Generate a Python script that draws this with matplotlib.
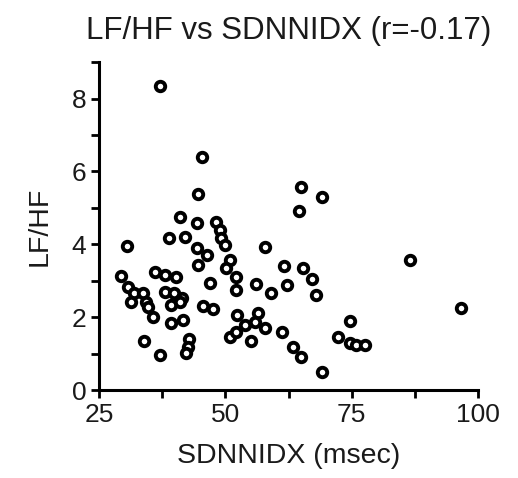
import matplotlib
matplotlib.use('Agg')
import matplotlib.pyplot as plt
from matplotlib.ticker import MultipleLocator

plt.rcParams['font.family'] = ['Liberation Sans', 'DejaVu Sans']

# SDNNIDX (msec)
sdnnidx = [37.1, 45.4, 44.6, 65.0, 69.2, 64.5, 41.0, 44.3, 48.1, 48.9,
           49.2, 49.9, 38.9, 42.0, 30.5, 44.3, 57.8, 46.4, 44.6, 50.9,
           50.2, 52.2, 52.2, 61.7, 65.4, 67.2, 67.9, 62.1, 56.0, 59.1,
           46.9, 29.4, 30.7, 31.9, 31.4, 33.7, 34.4, 34.7, 35.7, 36.0,
           38.0, 40.3, 38.1, 39.9, 39.3, 41.5, 41.0, 39.2, 41.6, 34.0,
           37.0, 42.9, 42.6, 42.2, 45.6, 47.6, 52.4, 56.5, 50.9, 52.2,
           53.8, 55.0, 55.9, 57.8, 61.3, 63.4, 65.0, 69.2, 72.2, 74.6,
           74.6, 75.9, 77.6, 86.5, 96.7]
# LF/HF ratio
lfhf = [8.35, 6.39, 5.38, 5.58, 5.31, 4.92, 4.74, 4.59, 4.62, 4.39,
        4.16, 3.98, 4.16, 4.21, 3.96, 3.89, 3.92, 3.71, 3.43, 3.57,
        3.34, 3.11, 2.75, 3.41, 3.34, 3.04, 2.61, 2.88, 2.90, 2.65,
        2.93, 3.13, 2.84, 2.65, 2.43, 2.65, 2.43, 2.29, 2.01, 3.25,
        3.16, 3.11, 2.70, 2.65, 2.33, 2.54, 2.43, 1.83, 1.92, 1.35,
        0.96, 1.39, 1.19, 1.03, 2.31, 2.22, 2.06, 2.11, 1.45, 1.60,
        1.78, 1.35, 1.88, 1.69, 1.60, 1.17, 0.90, 0.50, 1.46, 1.90,
        1.28, 1.25, 1.24, 3.57, 2.24]

fig = plt.figure(figsize=(5.18, 4.78), dpi=100)
ax = fig.add_axes([0.191, 0.184, 0.732, 0.686])

ax.plot(sdnnidx, lfhf, linestyle='none', marker='o', markersize=6.8,
        markerfacecolor='white', markeredgecolor='black', markeredgewidth=2.8)

ax.set_xlim(25, 100)
ax.set_ylim(0, 9)
ax.xaxis.set_major_locator(MultipleLocator(25))
ax.xaxis.set_minor_locator(MultipleLocator(12.5))
ax.yaxis.set_major_locator(MultipleLocator(2))
ax.yaxis.set_minor_locator(MultipleLocator(1))
ax.set_yticks([0, 2, 4, 6, 8])

for s in ['top', 'right']:
    ax.spines[s].set_visible(False)
for s in ['left', 'bottom']:
    ax.spines[s].set_linewidth(2.2)

ax.tick_params(which='both', direction='out', width=2, length=6,
               labelsize=19, labelcolor='#1a1a1a')
ax.tick_params(axis='x', pad=3)
ax.tick_params(axis='y', pad=3)

ax.set_title('LF/HF vs SDNNIDX (r=-0.17)', fontsize=22.5, pad=17, color='#1a1a1a')
ax.set_xlabel('SDNNIDX (msec)', fontsize=20.5, labelpad=12, color='#1a1a1a')
ax.set_ylabel('LF/HF', fontsize=20.5, labelpad=14, color='#1a1a1a')

plt.savefig('out.png', dpi=100)
